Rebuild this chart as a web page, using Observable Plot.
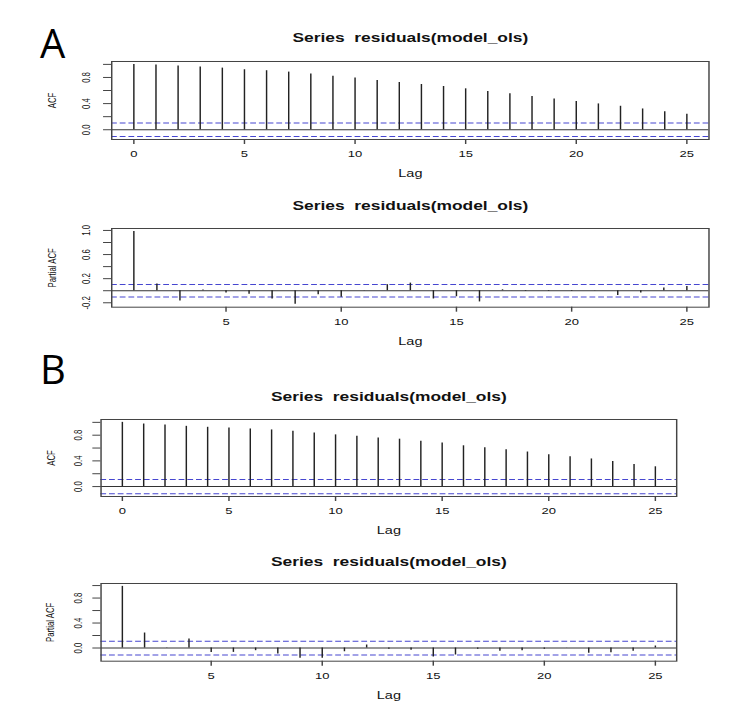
<!DOCTYPE html>
<html><head><meta charset="utf-8">
<script src="https://cdn.jsdelivr.net/npm/d3@7"></script>
<script src="https://cdn.jsdelivr.net/npm/@observablehq/plot@0.6"></script>
<style>
html,body{margin:0;padding:0;background:#fff;}
#page{position:relative;width:753px;height:712px;overflow:hidden;background:#fff;}
.panel{position:absolute;left:0;width:753px;}
.panel svg{transform:scaleX(1.45);transform-origin:0 0;max-width:none !important;display:block;}
.panel svg text{white-space:pre;}
.big{position:absolute;font-family:"Open Sans",sans-serif;font-size:40px;line-height:40px;color:#000;}
</style></head><body><div id="page"></div>
<script>
// ---------- data ----------
const panelTitle = "Series  residuals(model_ols)";
const xAxisLabel = "Lag";
const acfLags  = [0,1,2,3,4,5,6,7,8,9,10,11,12,13,14,15,16,17,18,19,20,21,22,23,24,25];
const pacfLags = [1,2,3,4,5,6,7,8,9,10,11,12,13,14,15,16,17,18,19,20,21,22,23,24,25];

const acfA  = [1.0,0.99,0.974,0.959,0.943,0.918,0.903,0.882,0.851,0.82,0.79,0.754,0.723,0.692,0.662,0.626,0.585,0.549,0.508,0.472,0.431,0.395,0.359,0.318,0.277,0.236];
const pacfA = [0.984,0.11,-0.17,0.01,-0.04,-0.06,-0.137,-0.225,-0.066,-0.11,0.003,0.1,0.126,-0.137,-0.1,-0.186,0.015,-0.01,-0.01,-0.01,0.003,-0.08,-0.04,0.045,0.07];
const acfB  = [1.0,0.974,0.958,0.938,0.923,0.912,0.897,0.882,0.862,0.835,0.805,0.784,0.758,0.738,0.707,0.677,0.635,0.605,0.574,0.538,0.497,0.466,0.43,0.389,0.343,0.308];
const pacfB = [0.987,0.24,-0.005,0.144,-0.07,-0.07,-0.043,-0.096,-0.165,-0.165,-0.06,0.048,-0.02,-0.037,-0.144,-0.112,-0.02,-0.053,-0.043,-0.02,0.002,-0.085,-0.075,-0.053,0.032];
const climA = 0.105;   // significance bound, panel A
const climB = 0.11;    // significance bound, panel B

const acfXTicks  = [0,5,10,15,20,25];
const pacfXTicks = [5,10,15,20,25];
const yTicksAcf   = [0,0.2,0.4,0.6,0.8,1.0];
const yTicksPacfA = [-0.2,0,0.2,0.4,0.6,0.8,1.0];
const yTicksPacfB = [0,0.2,0.4,0.6,0.8,1.0];
const yLabelsAcf   = ["0.0","0.4","0.8"];
const yLabelsPacfA = ["-0.2","0.2","0.6","1.0"];
const yLabelsPacfB = ["0.0","0.4","0.8"];
const panelLetters = ["A","B"];

// ---------- layout (page pixels) ----------
const SX = 1.45, PAGE_W = 753;
const panels = [
  {top:16, height:170, frame:{l:111,r:708.3,t:61,b:139}, lags:acfLags, vals:acfA, clim:climA, ylabel:"ACF",
   yTicks:yTicksAcf, yLabels:yLabelsAcf, xTicks:acfXTicks, titleY:38, lagY:173.5, yLabelX:51.7, yTickLabelX:86},
  {top:188, height:166, frame:{l:111,r:708.3,t:228,b:306.7}, lags:pacfLags, vals:pacfA, clim:climA, ylabel:"Partial ACF",
   yTicks:yTicksPacfA, yLabels:yLabelsPacfA, xTicks:pacfXTicks, titleY:206, lagY:341, yLabelX:51.7, yTickLabelX:86},
  {top:388, height:156, frame:{l:100.3,r:676,t:419,b:496}, lags:acfLags, vals:acfB, clim:climB, ylabel:"ACF",
   yTicks:yTicksAcf, yLabels:yLabelsAcf, xTicks:acfXTicks, titleY:397, lagY:530, yLabelX:50.7, yTickLabelX:77.7},
  {top:545, height:167, frame:{l:100.3,r:676,t:583,b:660.7}, lags:pacfLags, vals:pacfB, clim:climB, ylabel:"Partial ACF",
   yTicks:yTicksPacfB, yLabels:yLabelsPacfB, xTicks:pacfXTicks, titleY:562, lagY:695, yLabelX:50, yTickLabelX:77.7}
];
const letterPos = [{left:40, top:23}, {left:40, top:349}];

const page = document.getElementById("page");
const FONT = "'Liberation Sans', Arial, sans-serif";

function drawPanel(p){
  const lo = Math.min(-p.clim, d3.min(p.vals)), hi = Math.max(p.clim, d3.max(p.vals));
  const ypad = 0.04*(hi-lo);
  const xlo = d3.min(p.lags), xhi = d3.max(p.lags), xpad = 0.04*(xhi-xlo);
  const rows = p.lags.map((l,i)=>({lag:l, value:p.vals[i]}));
  const labelRows = p.yLabels.map(s=>({v:+s, s}));
  const svg = Plot.plot({
    width: PAGE_W/SX, height: p.height,
    marginLeft: p.frame.l/SX, marginRight:(PAGE_W-p.frame.r)/SX,
    marginTop: p.frame.t - p.top, marginBottom: p.top + p.height - p.frame.b,
    x:{domain:[xlo-xpad, xhi+xpad]},
    y:{domain:[lo-ypad, hi+ypad]},
    style:{fontFamily:FONT, background:"transparent", color:"#111", overflow:"visible"},
    marks:[
      Plot.ruleY([p.clim,-p.clim], {stroke:"#4646d0", strokeDasharray:"4,2", strokeWidth:1}),
      Plot.ruleY([0], {stroke:"#333"}),
      Plot.ruleX(rows, {x:"lag", y1:0, y2:"value", stroke:"#222", strokeWidth:1}),
      Plot.frame({stroke:"#444"}),
      Plot.axisX({ticks:p.xTicks, anchor:"bottom", tickSize:5, tickPadding:6.5, fontSize:9, stroke:"#444", label:null}),
      Plot.axisY({ticks:p.yTicks, anchor:"left", tickSize:5.5, tickFormat:()=>"", stroke:"#444", label:null}),
      Plot.text(labelRows, {y:"v", text:"s", frameAnchor:"left", dx:-(p.frame.l - p.yTickLabelX)/SX, rotate:-90,
        fontSize:7.8, textAnchor:"middle", lineAnchor:"middle"}),
      Plot.text([p.ylabel], {text:d=>d, frameAnchor:"left", dx:-(p.frame.l - p.yLabelX)/SX, rotate:-90,
        fontSize:7.8, textAnchor:"middle", lineAnchor:"middle"}),
      Plot.text([panelTitle], {text:d=>d, frameAnchor:"top", dy:p.titleY - p.frame.t, fontSize:12, fontWeight:"bold", lineAnchor:"middle"}),
      Plot.text([xAxisLabel], {text:d=>d, frameAnchor:"bottom", dy:p.lagY - p.frame.b, fontSize:10, lineAnchor:"middle"})
    ]
  });
  const div = document.createElement("div");
  div.className = "panel";
  div.style.top = p.top + "px";
  div.style.height = p.height + "px";
  div.appendChild(svg);
  page.appendChild(div);
}
panels.forEach(drawPanel);

panelLetters.forEach((t,i)=>{
  const d = document.createElement("div");
  d.className = "big";
  d.textContent = t;
  d.style.left = letterPos[i].left + "px";
  d.style.top = letterPos[i].top + "px";
  page.appendChild(d);
});
</script>
</body></html>
